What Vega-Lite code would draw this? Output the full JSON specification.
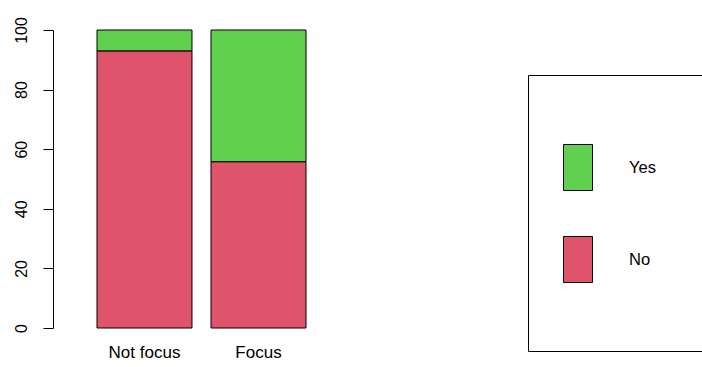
{
  "$schema": "https://vega.github.io/schema/vega-lite/v6.json",
  "autosize": {"type": "none"},
  "width": 297,
  "height": 298,
  "padding": {"left": 53, "top": 30, "right": 352, "bottom": 39},
  "background": "white",
  "config": {
    "view": {"stroke": null},
    "font": "Liberation Sans"
  },
  "data": {
    "values": [
      {"group": "Not focus", "response": "No", "value": 93},
      {"group": "Not focus", "response": "Yes", "value": 7},
      {"group": "Focus", "response": "No", "value": 55.8},
      {"group": "Focus", "response": "Yes", "value": 44.2}
    ]
  },
  "mark": {"type": "bar", "stroke": "black", "strokeWidth": 1},
  "encoding": {
    "x": {
      "field": "group",
      "type": "nominal",
      "sort": ["Not focus", "Focus"],
      "scale": {"paddingInner": 0.1667, "paddingOuter": 0.386},
      "axis": {
        "title": null,
        "domain": false,
        "ticks": false,
        "labelAngle": 0,
        "labelFont": "Liberation Sans",
        "labelFontSize": 17,
        "labelColor": "black",
        "labelPadding": 16
      }
    },
    "y": {
      "field": "value",
      "type": "quantitative",
      "stack": "zero",
      "scale": {"domain": [0, 100], "nice": false},
      "axis": {
        "title": null,
        "grid": false,
        "values": [0, 20, 40, 60, 80, 100],
        "domainColor": "black",
        "tickColor": "black",
        "tickSize": 10,
        "labelAngle": 270,
        "labelFont": "Liberation Sans",
        "labelFontSize": 16,
        "labelColor": "black",
        "labelPadding": 14
      }
    },
    "color": {
      "field": "response",
      "type": "nominal",
      "scale": {"domain": ["Yes", "No"], "range": ["#61D04F", "#DF536B"]},
      "legend": {
        "title": null,
        "orient": "none",
        "legendX": 475,
        "legendY": 45,
        "padding": 48,
        "strokeColor": "black",
        "fillColor": "white",
        "symbolType": "M0,-1M0,0.9318M-0.3295,-0.5227H0.3295V0.5227H-0.3295Z",
        "symbolSize": 7744,
        "symbolStrokeColor": "black",
        "symbolStrokeWidth": 1,
        "symbolOpacity": 1,
        "symbolOffset": -42.5,
        "rowPadding": 2,
        "labelFont": "Liberation Sans",
        "labelFontSize": 16.5,
        "labelColor": "black",
        "labelOffset": 6.5,
        "labelExpr": "datum.label + '\u00a0\u00a0\u00a0\u00a0\u00a0\u00a0\u00a0\u00a0\u00a0\u00a0\u00a0\u00a0\u00a0\u00a0\u00a0\u00a0\u00a0\u00a0'"
      }
    },
    "order": {"field": "response", "sort": "ascending"}
  }
}
